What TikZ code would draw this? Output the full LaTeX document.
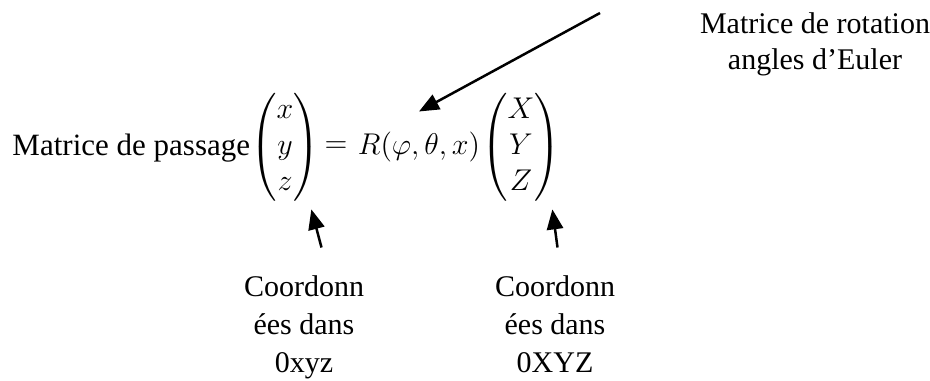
\documentclass[tikz,border=0pt]{standalone}
\usepackage{amsmath}
\usepackage{fontspec}
\setmainfont{Liberation Serif}
\usetikzlibrary{arrows.meta,positioning}
\tikzset{
  lbl/.style={inner sep=0pt,align=center,font=\fontsize{12}{15.2}\selectfont},
  mth/.style={inner sep=0pt,font=\fontsize{13}{14.5}\selectfont},
  arr/.style={-{Triangle[length=8pt,width=6.5pt]},line width=1pt},
}
\begin{document}
\begin{tikzpicture}[x=0.4pt,y=-0.4pt]
\useasboundingbox (0,0) rectangle (930,380);
\node[lbl,anchor=base west,font=\fontsize{12.4}{15}\selectfont] (passage) at (12,155) {Matrice de passage};
\node[mth] (vecl) at (285,147) {$\begin{pmatrix}x\\y\\z\end{pmatrix}$};
\node[mth] (eq) at (336,147) {$=$};
\node[mth] (rot) at (419,147) {$R(\varphi,\theta,x)$};
\node[mth] (vecr) at (521,147) {$\begin{pmatrix}X\\Y\\Z\end{pmatrix}$};
\node[lbl,anchor=north,font=\fontsize{12}{14.4}\selectfont] (rotlbl) at (815,12) {Matrice de rotation\\angles d'Euler};
\node[lbl,anchor=north] (cxyz) at (304,275) {Coordonn\\ées dans\\0xyz};
\node[lbl,anchor=north] (cXYZ) at (555,275) {Coordonn\\ées dans\\0XYZ};
\coordinate (rotsrc) at (600,13);
\draw[arr] (rotsrc) -- ([yshift=8pt]rot.north);
\draw[arr] ([xshift=7pt,yshift=11pt]cxyz.north) -- ([xshift=-3.5pt,yshift=-3pt]vecl.south east);
\draw[arr] ([xshift=1pt,yshift=11pt]cXYZ.north) -- ([xshift=-3.5pt,yshift=-3pt]vecr.south east);
\end{tikzpicture}
\end{document}
